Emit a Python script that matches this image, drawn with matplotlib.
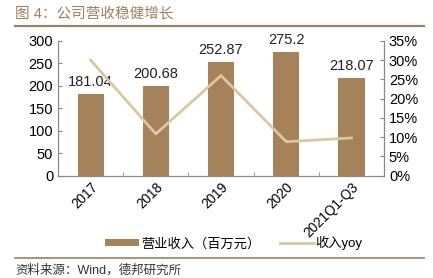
import matplotlib.pyplot as plt
import numpy as np

plt.rcParams['font.family'] = ['Liberation Sans', 'Noto Sans CJK SC']

# === 數據 ===
categories = ["2017", "2018", "2019", "2020", "2021Q1-Q3"]
revenue = [181.04, 200.68, 252.87, 275.2, 218.07]
yoy = [30.0, 10.85, 26.0, 8.83, 9.8]

bar_color = "#A5825A"
line_color = "#D8C8A2"
brown = "#A0805C"

fig = plt.figure(figsize=(4.33, 2.78), dpi=100)
ax = fig.add_axes([0.134, 0.368, 0.753, 0.485])
x = np.arange(len(categories))

bars = ax.bar(x, revenue, width=0.4, color=bar_color, label="营业收入（百万元）", zorder=2)
for xi, v in zip(x, revenue):
    ax.text(xi, v + 11, f"{v:g}", ha="center", va="bottom", fontsize=10.5, color="#222222")

ax.set_ylim(0, 300)
ax.set_yticks(range(0, 301, 50))
ax.set_xlim(-0.5, len(categories) - 0.5)
ax.set_xticks(x)
ax.set_xticklabels(categories, rotation=45, ha="right", rotation_mode="anchor", fontsize=9.8)
ax.set_xticks(np.arange(0.5, len(categories) - 0.5, 1), minor=True)
ax.tick_params(axis="x", which="major", length=0, pad=3)
ax.tick_params(axis="x", which="minor", length=3, direction="in", color="#888888")
ax.tick_params(axis="y", labelsize=10.5, length=3, direction="in", color="#888888")

ax2 = ax.twinx()
ax2.plot(x, yoy, color=line_color, linewidth=2, label="收入yoy", zorder=3)
ax2.set_ylim(0, 35)
ax2.set_yticks(range(0, 36, 5))
ax2.set_yticklabels([f"{t}%" for t in range(0, 36, 5)])
ax2.tick_params(axis="y", labelsize=10.5, length=3, direction="in", color="#888888")

for a in (ax, ax2):
    a.spines["top"].set_visible(False)
    for s in ("left", "right", "bottom"):
        a.spines[s].set_color("#888888")
        a.spines[s].set_linewidth(0.8)

# 圖例
h1, l1 = ax.get_legend_handles_labels()
h2, l2 = ax2.get_legend_handles_labels()
fig.legend(h1 + h2, l1 + l2, loc="center", bbox_to_anchor=(0.54, 0.125), ncol=2,
           frameon=False, fontsize=9.5, handlelength=2.6, handleheight=0.45,
           columnspacing=1.5, handletextpad=0.1)

# 標題與線
fig.text(0.035, 0.953, "图 4：公司营收稳健增长", fontsize=10.5, color=brown,
         fontweight="medium", va="center", ha="left")
fig.add_artist(plt.Line2D([0.035, 0.98], [0.905, 0.905], color=brown, linewidth=1.5))
fig.add_artist(plt.Line2D([0.035, 0.98], [0.072, 0.072], color=brown, linewidth=1.2))
fig.text(0.035, 0.028, "资料来源：Wind，德邦研究所", fontsize=9, color="#333333",
         va="center", ha="left")

fig.savefig("out.png", dpi=100)
